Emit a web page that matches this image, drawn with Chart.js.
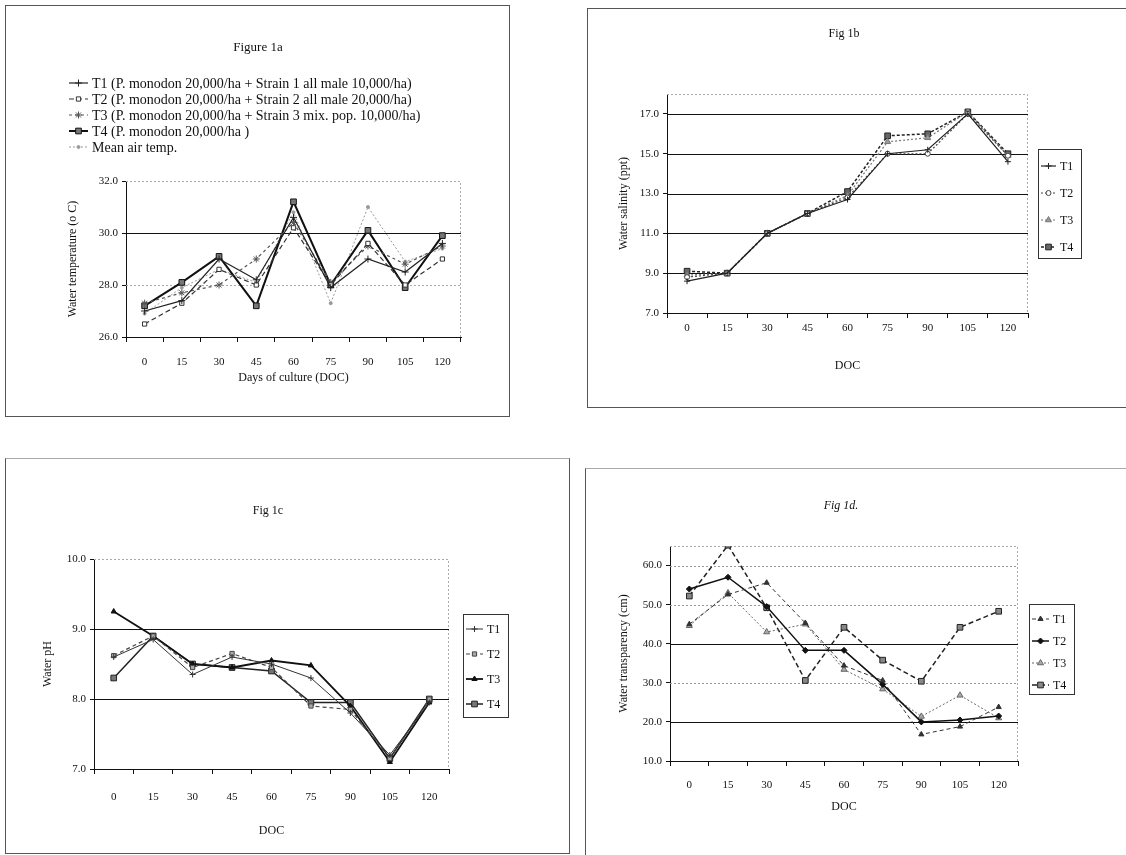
<!DOCTYPE html>
<html>
<head>
<meta charset="utf-8">
<title>Figure 1</title>
<script src="https://cdn.jsdelivr.net/npm/chart.js@4.4.0/dist/chart.umd.min.js"></script>
<style>
  html, body { margin: 0; padding: 0; background: #fff; }
  body { width: 1126px; height: 855px; position: relative; overflow: hidden; }
  .panel { position: absolute; box-sizing: border-box; border: 1px solid #555; background: #fff; }
  .panel canvas { position: absolute; left: 0; top: 0; }
</style>
</head>
<body>
<div class="panel" style="left:5px;top:5px;width:505px;height:412px;"><canvas id="chartA" width="503" height="410"></canvas></div>
<div class="panel" style="left:587px;top:8px;width:545px;height:400px;"><canvas id="chartB" width="543" height="398"></canvas></div>
<div class="panel" style="left:5px;top:458px;width:565px;height:396px;border-top-color:#aaa;"><canvas id="chartC" width="563" height="394"></canvas></div>
<div class="panel" style="left:585px;top:468px;width:545px;height:390px;border-top-color:#aaa;"><canvas id="chartD" width="543" height="388"></canvas></div>

<script>
const doc = ['0', '15', '30', '45', '60', '75', '90', '105', '120'];

// Fig 1a water temperature (deg C)
const tempTicks = [26, 28, 30, 32];
const tempT1 = [27.0, 27.4, 29.0, 28.2, 30.6, 27.9, 29.0, 28.5, 29.6];
const tempT2 = [26.5, 27.3, 28.6, 28.0, 30.2, 28.0, 29.6, 28.0, 29.0];
const tempT3 = [27.3, 27.7, 28.0, 29.0, 30.4, 28.1, 29.5, 28.8, 29.5];
const tempT4 = [27.2, 28.1, 29.1, 27.2, 31.2, 28.0, 30.1, 27.9, 29.9];
const airTemp = [26.9, 27.9, 28.6, 28.1, 30.8, 27.3, 31.0, 28.9, 29.4];

// Fig 1b salinity (ppt)
const salTicks = [7, 9, 11, 13, 15, 17];
const salT1 = [8.6, 9.0, 11.0, 12.0, 12.7, 15.0, 15.2, 17.0, 14.6];
const salT2 = [8.8, 9.0, 11.0, 12.0, 12.8, 15.0, 15.0, 17.0, 14.9];
const salT3 = [8.9, 9.0, 11.0, 12.0, 12.9, 15.6, 15.8, 17.1, 14.9];
const salT4 = [9.1, 9.0, 11.0, 12.0, 13.1, 15.9, 16.0, 17.1, 15.0];

// Fig 1c pH
const phTicks = [7, 8, 9, 10];
const phT1 = [8.6, 8.85, 8.35, 8.6, 8.5, 8.3, 7.8, 7.2, 7.95];
const phT2 = [8.62, 8.9, 8.45, 8.65, 8.45, 7.9, 7.85, 7.15, 8.0];
const phT3 = [9.25, 8.9, 8.5, 8.45, 8.55, 8.48, 7.9, 7.1, 7.95];
const phT4 = [8.3, 8.9, 8.5, 8.45, 8.4, 7.95, 7.95, 7.15, 8.0];

// Fig 1d transparency (cm)
const trTicks = [10, 20, 30, 40, 50, 60];
const trT1 = [45.0, 52.6, 55.6, 45.3, 34.4, 30.6, 16.8, 18.8, 23.8];
const trT2 = [54.0, 57.0, 49.5, 38.3, 38.3, 29.6, 20.0, 20.5, 21.5];
const trT3 = [44.6, 53.0, 43.0, 45.0, 33.4, 28.4, 21.4, 26.8, 21.0];
const trT4 = [52.2, 65.2, 49.2, 30.6, 44.2, 35.8, 30.4, 44.2, 48.3];

const serif = "'Liberation Serif', 'DejaVu Serif', serif";

// draws title, horizontal grid lines, plot border and the legend
const panelPlugin = {
  id: 'panel',
  beforeDatasetsDraw(chart, args, opts) {
    const ctx = chart.ctx, a = chart.chartArea, y = chart.scales.y;
    ctx.save();
    ctx.lineWidth = 1;
    ctx.strokeStyle = '#aaa';
    ctx.setLineDash([2, 2]);
    ctx.beginPath();
    ctx.moveTo(a.left, a.top + 0.5);
    ctx.lineTo(a.right - 0.5, a.top + 0.5);
    ctx.lineTo(a.right - 0.5, a.bottom);
    ctx.stroke();
    opts.grid.forEach(g => {
      const py = Math.round(y.getPixelForValue(g.v)) + 0.5;
      ctx.strokeStyle = g.c;
      ctx.setLineDash(g.dash || []);
      ctx.beginPath();
      ctx.moveTo(a.left, py);
      ctx.lineTo(a.right, py);
      ctx.stroke();
    });
    ctx.restore();
  },
  afterDraw(chart, args, opts) {
    const ctx = chart.ctx;
    ctx.save();
    ctx.fillStyle = '#111';
    ctx.font = opts.titleFont;
    ctx.textAlign = 'center';
    ctx.textBaseline = 'middle';
    ctx.fillText(opts.title, opts.titleX, opts.titleY);

    if (opts.box) {
      ctx.strokeStyle = '#333';
      ctx.lineWidth = 1;
      ctx.strokeRect(opts.box[0] + 0.5, opts.box[1] + 0.5, opts.box[2], opts.box[3]);
    }
    ctx.font = opts.legFont;
    ctx.textAlign = 'left';
    chart.data.datasets.forEach((ds, i) => {
      const ly = opts.legY + i * opts.legStep;
      ctx.strokeStyle = ds.borderColor;
      ctx.lineWidth = ds.borderWidth;
      ctx.setLineDash(ds.borderDash);
      ctx.beginPath();
      ctx.moveTo(opts.legX, ly);
      ctx.lineTo(opts.legX + opts.legW, ly);
      ctx.stroke();
      ctx.setLineDash([]);
      ctx.fillStyle = ds.pointBackgroundColor;
      ctx.strokeStyle = ds.pointBorderColor;
      ctx.lineWidth = 1;
      Chart.helpers.drawPoint(ctx, { pointStyle: ds.pointStyle, radius: ds.pointRadius, borderWidth: 1, rotation: 0 },
        opts.legX + opts.legW / 2, ly);
      ctx.fillStyle = '#111';
      ctx.fillText(ds.label, opts.legX + opts.legW + 4, ly + 1);
    });
    ctx.restore();
  }
};

function series(label, data, color, width, dash, point, r, fill) {
  return {
    label: label,
    data: data,
    borderColor: color,
    borderWidth: width,
    borderDash: dash,
    pointStyle: point,
    pointRadius: r,
    pointBackgroundColor: fill || color,
    pointBorderColor: color,
    pointBorderWidth: 1,
    tension: 0,
    fill: false
  };
}

function makeChart(id, sets, o) {
  return new Chart(document.getElementById(id), {
    type: 'line',
    data: { labels: doc, datasets: sets },
    options: {
      responsive: false,
      animation: false,
      devicePixelRatio: 1,
      events: [],
      layout: { padding: o.pad },
      plugins: { legend: { display: false }, tooltip: { enabled: false }, panel: o.panel },
      scales: {
        x: {
          offset: true,
          grid: { offset: true, drawOnChartArea: false, color: '#111', tickLength: 5 },
          border: { color: '#111' },
          ticks: { color: '#111', font: { family: serif, size: 11 }, padding: o.xPad, maxRotation: 0 },
          title: { display: true, text: o.xTitle, color: '#111', font: { family: serif, size: 12 }, padding: 0 },
          afterFit: s => { s.height = o.xH; }
        },
        y: {
          min: o.min,
          max: o.max,
          afterBuildTicks: s => { s.ticks = o.ticks.map(v => ({ value: v })); },
          grid: { drawOnChartArea: false, color: '#111', tickLength: 4 },
          border: { color: '#111' },
          ticks: { color: '#111', font: { family: serif, size: 11 }, padding: 4, callback: v => v.toFixed(1) },
          title: { display: true, text: o.yTitle, color: '#111', font: { family: serif, size: 12 }, padding: 0 },
          afterFit: s => { s.width = o.yW; }
        }
      }
    },
    plugins: [panelPlugin]
  });
}

makeChart('chartA', [
  series('T1 (P. monodon 20,000/ha + Strain 1 all male 10,000/ha)', tempT1, '#222', 1.2, [], 'cross', 3.5),
  series('T2 (P. monodon 20,000/ha + Strain 2 all male 20,000/ha)', tempT2, '#333', 1.2, [5, 3], 'rect', 3, '#fff'),
  series('T3 (P. monodon 20,000/ha + Strain 3 mix. pop. 10,000/ha)', tempT3, '#555', 1.2, [3, 3], 'star', 3.5),
  series('T4 (P. monodon 20,000/ha )', tempT4, '#111', 2, [], 'rect', 4, '#777'),
  series('Mean air temp.', airTemp, '#999', 1, [2, 2], 'circle', 1.5)
], {
  pad: { left: 60, right: 48, top: 175, bottom: 31 },
  yW: 60, xH: 48, xPad: 14,
  min: 26, max: 32, ticks: tempTicks,
  xTitle: 'Days of culture (DOC)', yTitle: 'Water temperature (o C)',
  panel: {
    title: 'Figure 1a', titleX: 252, titleY: 42, titleFont: '13px ' + serif,
    legX: 63, legY: 77, legStep: 16, legW: 19, legFont: '14px ' + serif,
    grid: [{ v: 30, c: '#111' }, { v: 28, c: '#aaa', dash: [2, 2] }]
  }
});

makeChart('chartB', [
  series('T1', salT1, '#222', 1.2, [], 'cross', 3),
  series('T2', salT2, '#444', 1.2, [2, 2], 'circle', 2.5, '#fff'),
  series('T3', salT3, '#777', 1.2, [2, 2], 'triangle', 3.5, '#999'),
  series('T4', salT4, '#222', 1.5, [3, 2], 'rect', 4, '#666')
], {
  pad: { left: 29, right: 103, top: 85, bottom: 34 },
  yW: 50, xH: 60, xPad: 4,
  min: 7, max: 18, ticks: salTicks,
  xTitle: 'DOC', yTitle: 'Water salinity (ppt)',
  panel: {
    title: 'Fig 1b', titleX: 256, titleY: 25, titleFont: '12px ' + serif,
    box: [450, 140, 43, 109],
    legX: 453, legY: 157, legStep: 27, legW: 15, legFont: '12px ' + serif,
    grid: [{ v: 9, c: '#111' }, { v: 11, c: '#111' }, { v: 13, c: '#111' }, { v: 15, c: '#111' }, { v: 17, c: '#111' }]
  }
});

makeChart('chartC', [
  series('T1', phT1, '#333', 1, [], 'cross', 3),
  series('T2', phT2, '#444', 1.2, [4, 3], 'rect', 3, '#aaa'),
  series('T3', phT3, '#111', 1.8, [], 'triangle', 3),
  series('T4', phT4, '#222', 1.5, [], 'rect', 4, '#777')
], {
  pad: { left: 35, right: 120, top: 100, bottom: 15 },
  yW: 53, xH: 69, xPad: 17,
  min: 7, max: 10, ticks: phTicks,
  xTitle: 'DOC', yTitle: 'Water pH',
  panel: {
    title: 'Fig 1c', titleX: 262, titleY: 52, titleFont: '12px ' + serif,
    box: [457, 155, 45, 103],
    legX: 460, legY: 170, legStep: 25, legW: 17, legFont: '12px ' + serif,
    grid: [{ v: 8, c: '#111' }, { v: 9, c: '#111' }]
  }
});

makeChart('chartD', [
  series('T1', trT1, '#333', 1, [4, 3], 'triangle', 3),
  series('T2', trT2, '#111', 1.5, [], 'rectRot', 3),
  series('T3', trT3, '#666', 1, [2, 2], 'triangle', 3.5, '#aaa'),
  series('T4', trT4, '#222', 1.5, [5, 3], 'rect', 4, '#888')
], {
  pad: { left: 31, right: 111, top: 77, bottom: 43 },
  yW: 53, xH: 53, xPad: 13,
  min: 10, max: 65, ticks: trTicks,
  xTitle: 'DOC', yTitle: 'Water transparency (cm)',
  panel: {
    title: 'Fig 1d.', titleX: 255, titleY: 37, titleFont: 'italic 12px ' + serif,
    box: [443, 135, 45, 90],
    legX: 446, legY: 150, legStep: 22, legW: 17, legFont: '12px ' + serif,
    grid: [{ v: 20, c: '#111' }, { v: 40, c: '#111' }, { v: 30, c: '#999', dash: [2, 2] },
      { v: 50, c: '#999', dash: [2, 2] }, { v: 60, c: '#999', dash: [2, 2] }]
  }
});
</script>
</body>
</html>
